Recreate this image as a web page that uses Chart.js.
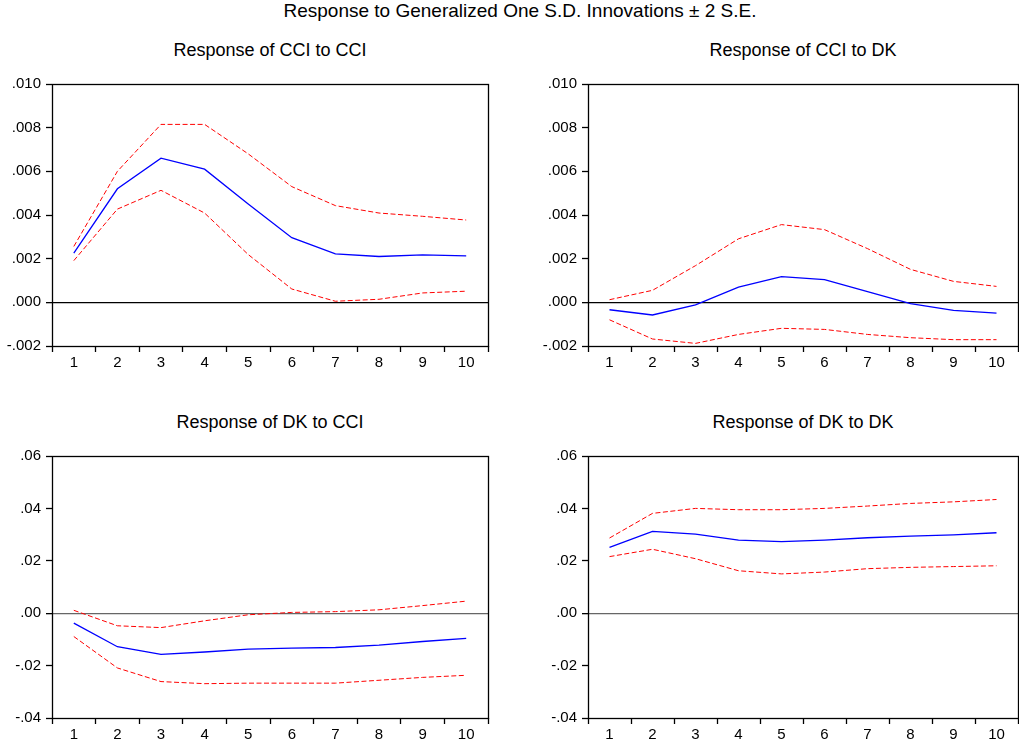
<!DOCTYPE html>
<html><head><meta charset="utf-8">
<script src="https://cdn.jsdelivr.net/npm/chart.js@4"></script>
<style>
body{margin:0;background:#fff;width:1019px;height:749px;overflow:hidden;position:relative;font-family:"Liberation Sans",Arial,sans-serif;color:#000}
.t{position:absolute;text-align:center;font-size:18px;line-height:18px;white-space:nowrap}
canvas{position:absolute}
</style></head><body>
<div class="t" style="left:20px;width:1000px;top:1px;font-size:19px;line-height:19px">Response to Generalized One S.D. Innovations ± 2 S.E.</div>
<div class="t" style="left:52px;width:436px;top:41px">Response of CCI to CCI</div>
<div class="t" style="left:588px;width:430px;top:41px">Response of CCI to DK</div>
<div class="t" style="left:52px;width:436px;top:413px">Response of DK to CCI</div>
<div class="t" style="left:588px;width:430px;top:413px">Response of DK to DK</div>
<canvas id="c1" width="490" height="306" style="left:0;top:70px;width:490px;height:306px"></canvas>
<canvas id="c2" width="483" height="306" style="left:536px;top:70px;width:483px;height:306px"></canvas>
<canvas id="c3" width="490" height="306" style="left:0;top:442px;width:490px;height:306px"></canvas>
<canvas id="c4" width="483" height="306" style="left:536px;top:442px;width:483px;height:306px"></canvas>
<script>
const steps = ['1','2','3','4','5','6','7','8','9','10'];

const cciCciMid = [0.00225,0.0052,0.0066,0.0061,0.0045,0.00296,0.00222,0.0021,0.00217,0.00213];
const cciCciUp  = [0.00256,0.0060,0.00815,0.00815,0.0068,0.0053,0.00443,0.00409,0.00394,0.00377];
const cciCciLo  = [0.00191,0.00427,0.00513,0.00409,0.00219,0.00061,0.00005,0.00014,0.00043,0.00051];

const cciDkMid = [-0.00034,-0.00058,-0.00012,0.00070,0.00118,0.00104,0.00049,-0.00006,-0.00037,-0.00049];
const cciDkUp  = [0.00012,0.00055,0.00168,0.00291,0.00356,0.00333,0.00246,0.00151,0.00096,0.00073];
const cciDkLo  = [-0.0008,-0.00168,-0.00188,-0.00147,-0.00119,-0.00124,-0.00147,-0.00162,-0.00171,-0.00171];

const dkCciMid = [-0.0038,-0.0128,-0.0157,-0.0148,-0.0137,-0.0133,-0.0131,-0.0122,-0.0108,-0.0096];
const dkCciUp  = [0.0011,-0.0048,-0.0055,-0.0029,-0.0006,0.0003,0.0006,0.0013,0.0029,0.0046];
const dkCciLo  = [-0.0089,-0.0209,-0.0261,-0.0269,-0.0267,-0.0267,-0.0267,-0.0256,-0.0245,-0.0237];

const dkDkMid = [0.0251,0.0312,0.0302,0.0279,0.0273,0.0279,0.0288,0.0294,0.0299,0.0307];
const dkDkUp  = [0.0287,0.0381,0.0400,0.0395,0.0395,0.0400,0.0409,0.0419,0.0425,0.0434];
const dkDkLo  = [0.0216,0.0244,0.0208,0.0162,0.0150,0.0157,0.0170,0.0175,0.0178,0.0181];

const cciTickValues = [-0.002,0,0.002,0.004,0.006,0.008,0.010];
const cciTickLabels = ['-.002','.000','.002','.004','.006','.008','.010'];
const dkTickValues = [-0.04,-0.02,0,0.02,0.04,0.06];
const dkTickLabels = ['-.04','-.02','.00','.02','.04','.06'];

const FONT = '"Liberation Sans", Arial, sans-serif';

const boxPlugin = {
  id: 'box',
  afterDatasetsDraw(chart) {
    const a = chart.chartArea, ctx = chart.ctx;
    ctx.save();
    ctx.strokeStyle = '#000';
    ctx.lineWidth = 1.3;
    ctx.strokeRect(Math.round(a.left)+0.5, Math.round(a.top)+0.5, Math.round(a.right-a.left), Math.round(a.bottom-a.top));
    ctx.restore();
  }
};

function makeChart(id, mid, up, lo, tv, tl, zeroColor, padRight) {
  new Chart(document.getElementById(id), {
    type: 'line',
    data: {
      labels: steps,
      datasets: [
        {data: up, borderColor: '#ff0000', borderWidth: 1, borderDash: [5,2.5], pointRadius: 0, tension: 0, fill: false},
        {data: lo, borderColor: '#ff0000', borderWidth: 1, borderDash: [5,2.5], pointRadius: 0, tension: 0, fill: false},
        {data: mid, borderColor: '#0000ff', borderWidth: 1.3, pointRadius: 0, tension: 0, fill: false}
      ]
    },
    options: {
      responsive: false,
      animation: false,
      devicePixelRatio: 1,
      layout: {padding: {top: 14, right: padRight, left: 0, bottom: 0}},
      plugins: {legend: {display: false}, tooltip: {enabled: false}, title: {display: false}},
      scales: {
        x: {
          type: 'category',
          offset: true,
          border: {display: false},
          grid: {offset: true, drawOnChartArea: false, drawTicks: true, tickLength: 6, tickColor: '#000', tickWidth: 1.3},
          ticks: {color: '#000', font: {family: FONT, size: 15}, padding: 2, maxRotation: 0, autoSkip: false},
          afterFit(s) { s.height = 30; }
        },
        y: {
          type: 'linear',
          min: tv[0], max: tv[tv.length-1],
          border: {display: false},
          afterBuildTicks(s) { s.ticks = tv.map(v => ({value: v})); },
          grid: {
            drawTicks: true, tickLength: 6, tickColor: '#000', tickWidth: 1.3,
            color: c => (c.tick && c.tick.value === 0) ? zeroColor : 'rgba(0,0,0,0)',
            lineWidth: c => (c.tick && c.tick.value === 0) ? 1.3 : 1
          },
          ticks: {
            color: '#000', font: {family: FONT, size: 15}, padding: 5,
            callback: (v) => { const i = tv.indexOf(v); return i >= 0 ? tl[i] : ''; }
          },
          afterFit(s) { s.width = 52; }
        }
      }
    },
    plugins: [boxPlugin]
  });
}

makeChart('c1', cciCciMid, cciCciUp, cciCciLo, cciTickValues, cciTickLabels, '#000', 2);
makeChart('c2', cciDkMid, cciDkUp, cciDkLo, cciTickValues, cciTickLabels, '#000', 1);
makeChart('c3', dkCciMid, dkCciUp, dkCciLo, dkTickValues, dkTickLabels, '#666', 2);
makeChart('c4', dkDkMid, dkDkUp, dkDkLo, dkTickValues, dkTickLabels, '#666', 1);
</script>
</body></html>
